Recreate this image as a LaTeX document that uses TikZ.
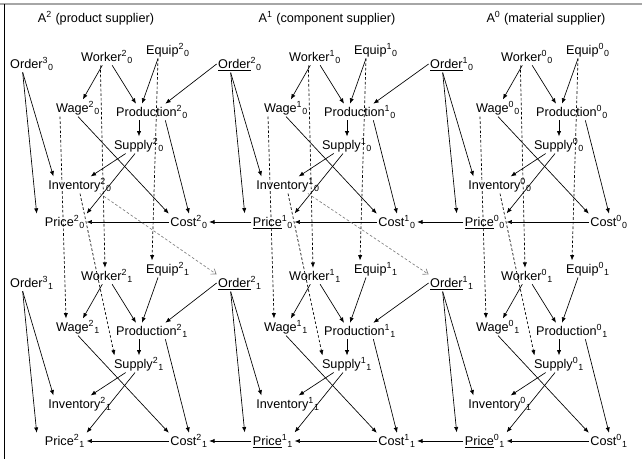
\documentclass[tikz,border=0pt]{standalone}
\usepackage{fontspec}
\setmainfont{Liberation Sans}
\usetikzlibrary{arrows.meta}
\newcommand\vvar[3]{#1\textsuperscript{#2}\textsubscript{#3}}
\tikzset{
  var/.style={inner sep=1pt, font=\fontsize{9.5}{11}\selectfont},
  arr/.style={-{Latex[length=4pt,width=3.2pt]}, line width=0.5pt},
  lag/.style={arr, dash pattern=on 2pt off 1.5pt},
  lagord/.style={-{Straight Barb[length=3.5pt,width=5pt]}, gray, line width=0.5pt, dash pattern=on 2pt off 1.5pt}
}
\begin{document}
\begin{tikzpicture}[x=0.75pt, y=-0.75pt]
\useasboundingbox (0,0) rectangle (642,459);

% moldura
	\draw[gray!70, line width=1.5pt] (0,4) -- (642,4);
	\draw[line width=0.6pt] (4,4) -- (4,459);

% titulos
	\node[var] (tit2) at (96,18) {A\textsuperscript{2} (product supplier)};
	\node[var] (tit1) at (327,18) {A\textsuperscript{1} (component supplier)};
	\node[var] (tit0) at (546,18) {A\textsuperscript{0} (material supplier)};

% variaveis de cada agente, periodos 0 e 1
	\foreach \a/\dx/\ul in {2/0/\relax, 1/208/\underline, 0/420/\underline} {
		\pgfmathtruncatemacro\o{\a+1}
		\foreach \t/\dy in {0/0, 1/219} {
			\node[var] (ord\a\t) at (\dx+32,\dy+64) {\vvar{\ul{Order}}{\o}{\t}};
			\node[var] (wrk\a\t) at (\dx+107,\dy+57) {\vvar{Worker}{\a}{\t}};
			\node[var] (eqp\a\t) at (\dx+168,\dy+50) {\vvar{Equip}{\a}{\t}};
			\node[var] (wag\a\t) at (\dx+78,\dy+108) {\vvar{Wage}{\a}{\t}};
			\node[var] (prd\a\t) at (\dx+152,\dy+112) {\vvar{Production}{\a}{\t}};
			\node[var] (sup\a\t) at (\dx+139,\dy+145) {\vvar{Supply}{\a}{\t}};
			\node[var] (inv\a\t) at (\dx+80,\dy+185) {\vvar{Inventory}{\a}{\t}};
			\node[var] (prc\a\t) at (\dx+65,\dy+222) {\vvar{\ul{Price}}{\a}{\t}};
			\node[var] (cst\a\t) at (\dx+189,\dy+222) {\vvar{Cost}{\a}{\t}};

			\draw[arr] (wrk\a\t) -- (wag\a\t);
			\draw[arr] (wrk\a\t) -- ([xshift=-12pt]prd\a\t.north);
			\draw[arr] ([xshift=-7.5pt]eqp\a\t.south) -- ([xshift=-7.5pt]prd\a\t.north);
			\draw[arr] (prd\a\t.south -| sup\a\t.north) -- (sup\a\t.north);
			\draw[arr] ([xshift=10pt]prd\a\t.south) -- (cst\a\t.north);
			\draw[arr] (wag\a\t.south) -- (cst\a\t.north west);
			\draw[arr] ([xshift=-10pt]sup\a\t.south) -- ([xshift=8pt]inv\a\t.north);
			\draw[arr] ([xshift=-3pt]sup\a\t.south) -- (prc\a\t.north east);
			\draw[arr] ([xshift=-7pt]ord\a\t.south) -- ([xshift=5pt]inv\a\t.north west);
			\draw[arr] ([xshift=-7pt]ord\a\t.south) -- ([xshift=-5pt]prc\a\t.north west);
			\draw[arr] (cst\a\t) -- (prc\a\t);
		}
	}

% ligacoes entre agentes
	\foreach \a/\b in {2/1, 1/0} {
		\foreach \t in {0,1}{
			\draw[arr] (ord\b\t.west) -- ([xshift=10pt]prd\a\t.north);
			\draw[arr] (prc\b\t.west) -- (cst\a\t.east);
		}
		\draw[lagord] ([xshift=-10pt]inv\a0.south east) -- (ord\b1.north west);
	}

% defasagens de 0 para 1
	\foreach \a in {2,1,0} {
		\draw[lag] ([xshift=-5pt]wrk\a0.south) -- ([xshift=-1.5pt]wrk\a1.north);
		\draw[lag] ([xshift=-7.5pt]eqp\a0.south) -- ([xshift=-12pt]eqp\a1.north);
		\draw[lag] ([xshift=-13.5pt]wag\a0.south) -- ([xshift=-9pt]wag\a1.north);
		\draw[lag] (inv\a0.south) -- ([xshift=1.5pt]sup\a1.north west);
	}
\end{tikzpicture}
\end{document}
